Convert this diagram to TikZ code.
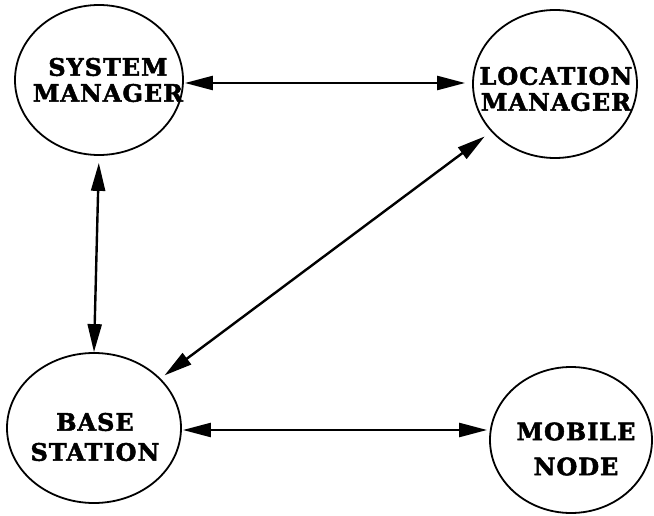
\documentclass[tikz,border=0pt]{standalone}
\usepackage{fontspec}
\usetikzlibrary{shapes.geometric,arrows.meta}
\newfontfamily\lblfont[LetterSpace=4,UprightFont=* Bold,FakeBold=2]{DejaVu Serif}
\tikzset{
  unit/.style={ellipse,draw,line width=1.8pt,inner sep=0pt},
  lbl/.style={font=\lblfont\fontsize{24}{27}\selectfont,align=center,inner sep=0pt},
  link/.style={line width=2.4pt,{Triangle[length=28pt,width=14pt]}-{Triangle[length=28pt,width=14pt]}}
}
\begin{document}
\begin{tikzpicture}[x=1pt,y=-1pt]
  \useasboundingbox (0,0) rectangle (654,516);
  % the four units
  \node[unit,minimum width=168pt,minimum height=150pt] (sm) at (99,80) {};
  \node[unit,minimum width=164pt,minimum height=148pt] (lm) at (555,84) {};
  \node[unit,minimum width=174pt,minimum height=150pt] (bs) at (94,428) {};
  \node[unit,minimum width=162pt,minimum height=146pt] (mn) at (571,440) {};
  % their names
  \node[lbl] (smt) at (108,80) {SYSTEM\\[-1pt]MANAGER};
  \node[lbl] (lmt) at (556,89) {LOCATION\\[-1pt]MANAGER};
  \node[lbl] (bst) at (95,437) {BASE\\[3pt]STATION};
  \node[lbl] (mnt) at (576,449) {MOBILE\\[8pt]NODE};
  % links between the units
  \draw[link,shorten <=1pt,shorten >=7pt] ([yshift=-3pt]sm.east) -- ([yshift=1pt]lm.west);
  \draw[link,shorten <=7pt,shorten >=0pt] (sm.south) -- (bs.north);
  \draw[link,shorten <=8pt,shorten >=5pt] (lm) -- (bs);
  \draw[link,shorten <=1pt,shorten >=2pt] ([yshift=-2pt]bs.east) -- ([yshift=10pt]mn.west);
\end{tikzpicture}
\end{document}
